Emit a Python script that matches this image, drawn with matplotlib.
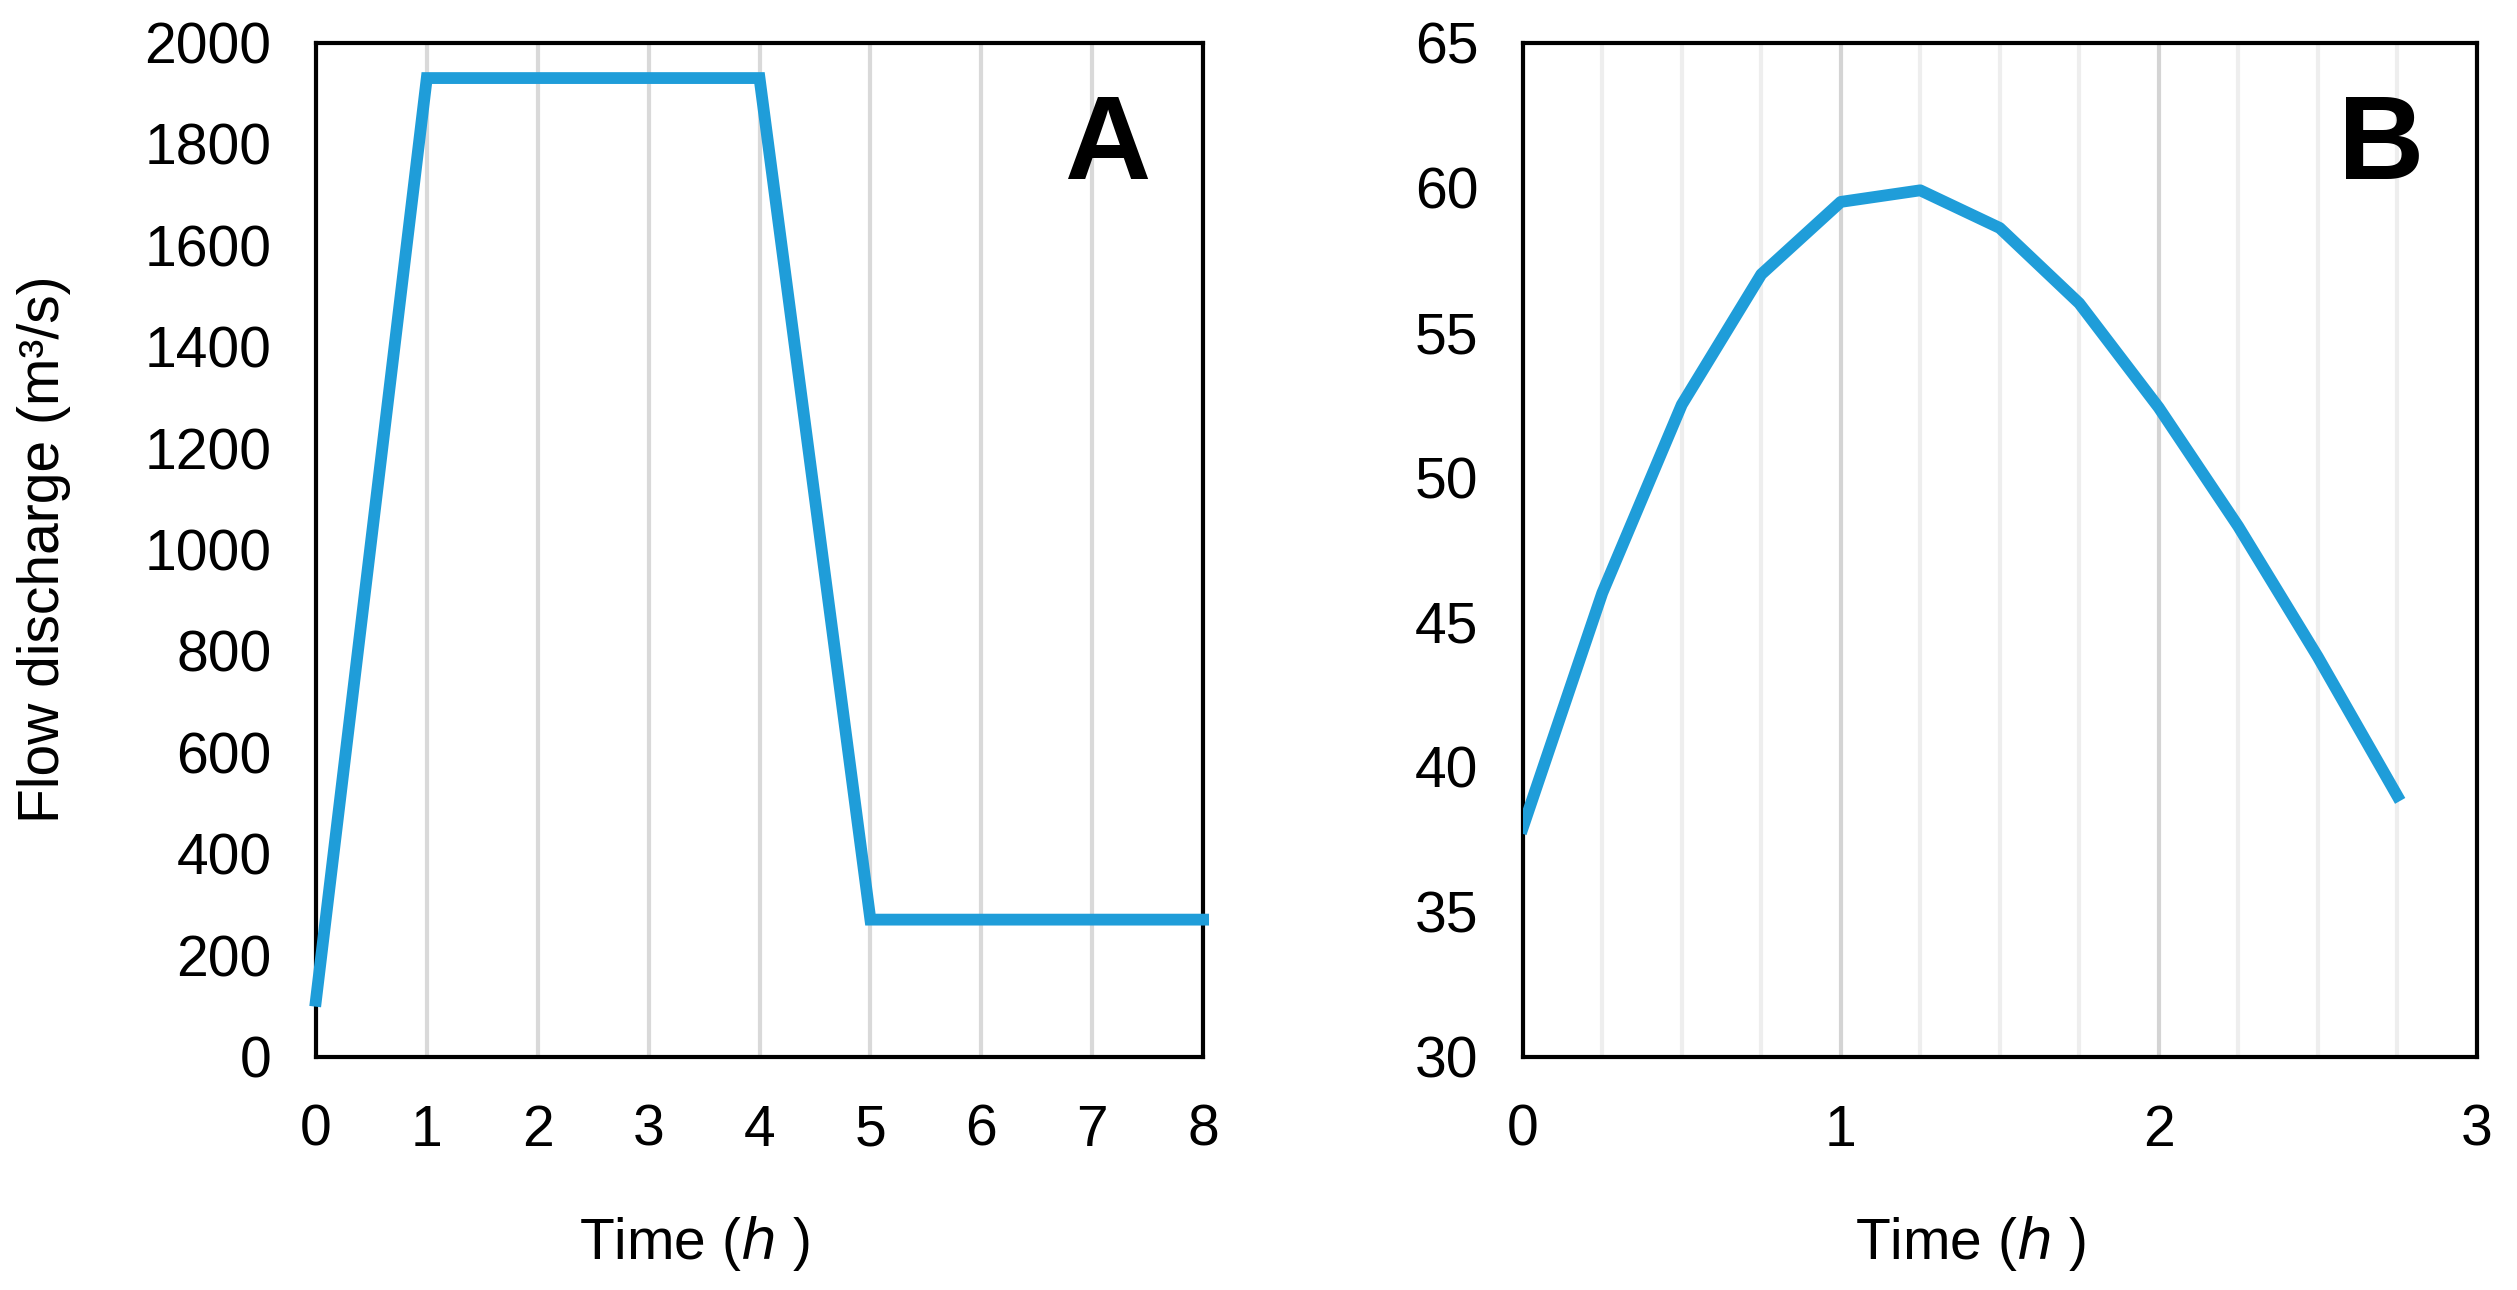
import matplotlib
matplotlib.use("Agg")
import matplotlib.pyplot as plt
import numpy as np

plt.rcParams['font.family'] = ['Liberation Sans', 'DejaVu Sans']

# panel A: inflow hydrograph
time_a = [0, 1, 4, 5, 8]
flow_a = [110, 1930, 1930, 270, 270]

# panel B: flow hydrograph
time_b = [0, 0.25, 0.5, 0.75, 1.0, 1.25, 1.5, 1.75, 2.0, 2.25, 2.5, 2.75]
flow_b = [37.9, 46.0, 52.5, 57.0, 59.5, 59.9, 58.6, 56.0, 52.4, 48.3, 43.8, 39.0]

blue = '#1f9dd9'
fs = 41

fig = plt.figure(figsize=(25.17, 12.90), dpi=100)
ax1 = fig.add_axes([0.1255, 0.181, 0.3525, 0.786])
ax2 = fig.add_axes([0.605, 0.181, 0.379, 0.786])

# A
ax1.plot(time_a, flow_a, color=blue, lw=8.5, solid_joinstyle='miter', zorder=3, clip_on=False)
ax1.set_xlim(0, 8)
ax1.set_ylim(0, 2000)
ax1.set_xticks(range(0, 9))
ax1.set_yticks(range(0, 2001, 200))
ax1.grid(axis='x', color='#d9d9d9', lw=3)
ax1.set_ylabel('Flow discharge (m\u00b3/s)', fontsize=fs, labelpad=53)
ax1.text(0.94, 0.95, 'A', transform=ax1.transAxes, fontsize=86, fontweight='bold',
         ha='right', va='top')

# B
ax2.plot(time_b, flow_b, color=blue, lw=8.5, zorder=3)
ax2.set_xlim(0, 3)
ax2.set_ylim(30, 65)
ax2.set_xticks([0, 1, 2, 3])
ax2.set_xticks(np.arange(0, 3, 0.25), minor=True)
ax2.set_yticks(range(30, 66, 5))
ax2.grid(axis='x', which='minor', color='#eeeeee', lw=3)
ax2.grid(axis='x', which='major', color='#d4d4d4', lw=3)
ax2.text(0.945, 0.95, 'B', transform=ax2.transAxes, fontsize=86, fontweight='bold',
         ha='right', va='top')

for ax in (ax1, ax2):
    ax.set_axisbelow(True)
    for s in ax.spines.values():
        s.set_linewidth(3)
        s.set_color('black')
    ax.tick_params(axis='both', which='both', length=0, labelsize=fs)
    ax.tick_params(axis='x', pad=34)
    ax.tick_params(axis='y', pad=32)
    ax.set_xlabel('Time ($\\mathit{h}$ )', fontsize=fs)

# x labels sit a bit left of centre in the original
ax1.xaxis.set_label_coords(0.427, -0.155)
ax2.xaxis.set_label_coords(0.469, -0.155)

fig.savefig('out.png', dpi=100, facecolor='white')
